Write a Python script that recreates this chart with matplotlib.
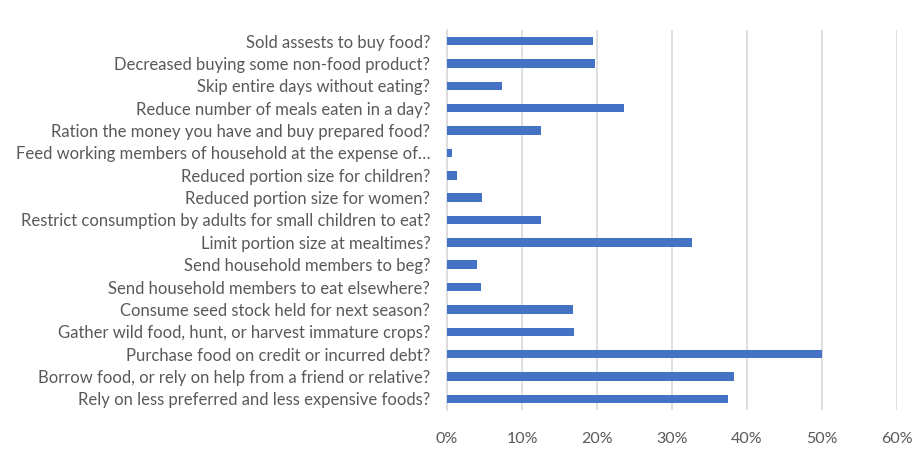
import matplotlib
matplotlib.use("Agg")
import matplotlib.pyplot as plt
from matplotlib.ticker import PercentFormatter

# Coping strategies, listed bottom to top as they appear on the y axis
strategies = [
    "Rely on less preferred and less expensive foods?",
    "Borrow food, or rely on help from a friend or relative?",
    "Purchase food on credit or incurred debt?",
    "Gather wild food, hunt, or harvest immature crops?",
    "Consume seed stock held for next season?",
    "Send household members to eat elsewhere?",
    "Send household members to beg?",
    "Limit portion size at mealtimes?",
    "Restrict consumption by adults for small children to eat?",
    "Reduced portion size for women?",
    "Reduced portion size for children?",
    "Feed working members of household at the expense of\u2026",
    "Ration the money you have and buy prepared food?",
    "Reduce number of meals eaten in a day?",
    "Skip entire days without eating?",
    "Decreased buying some non-food product?",
    "Sold assests to buy food?",
]
shares = [37.5, 38.3, 50.0, 16.9, 16.8, 4.5, 4.0, 32.7, 12.5, 4.6,
          1.3, 0.7, 12.5, 23.6, 7.3, 19.7, 19.5]

plt.rcParams['font.family'] = ['Lato', 'DejaVu Sans']
text_color = "#595959"

fig = plt.figure(figsize=(9.24, 4.53), dpi=100)
ax = fig.add_axes([0.4838, 0.0949, 0.4870, 0.8389])

ax.barh(range(len(strategies)), shares, height=0.38, color="#4472C4", zorder=3)

ax.set_xlim(0, 60)
ax.set_ylim(-0.5, len(strategies) - 0.5)
ax.set_xticks(range(0, 61, 10))
ax.xaxis.set_major_formatter(PercentFormatter(decimals=0))
ax.set_yticks(range(len(strategies)))
ax.set_yticklabels(strategies)

ax.grid(axis="x", color="#d9d9d9", linewidth=1.2, zorder=0)
for side in ["top", "right", "bottom"]:
    ax.spines[side].set_visible(False)
ax.spines["left"].set_color("#d9d9d9")
ax.spines["left"].set_linewidth(1.2)
ax.tick_params(axis="both", length=0, colors=text_color)
ax.tick_params(axis="x", pad=16, labelsize=11.5)
ax.tick_params(axis="y", pad=12, labelsize=12)

fig.savefig("out.png", dpi=100)
